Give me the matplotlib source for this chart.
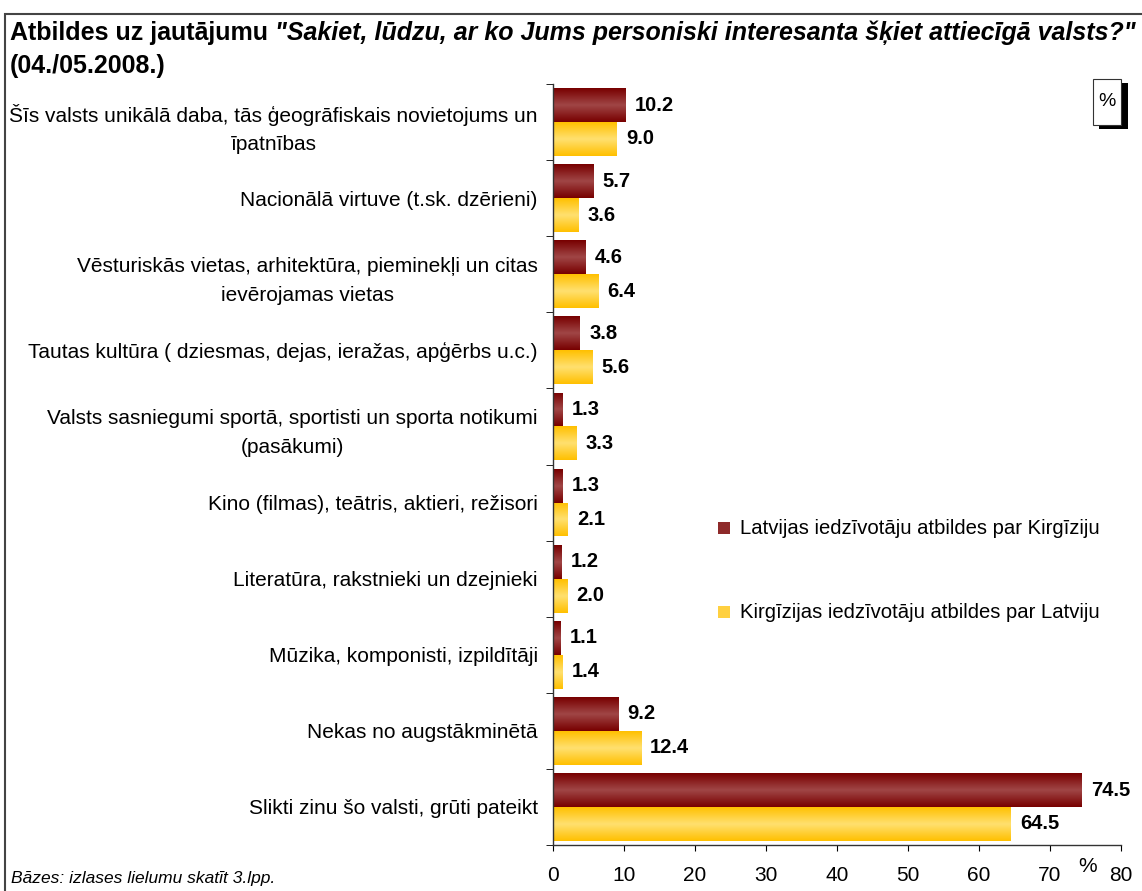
import matplotlib
matplotlib.use("Agg")
import matplotlib.pyplot as plt
import numpy as np
from matplotlib.colors import LinearSegmentedColormap
from matplotlib.patches import Rectangle

plt.rcParams['font.family'] = ['Liberation Sans', 'DejaVu Sans']

categories = [
    "Šīs valsts unikālā daba, tās ģeogrāfiskais novietojums un\nīpatnības",
    "Nacionālā virtuve (t.sk. dzērieni)",
    "Vēsturiskās vietas, arhitektūra, pieminekļi un citas\nievērojamas vietas",
    "Tautas kultūra ( dziesmas, dejas, ieražas, apģērbs u.c.)",
    "Valsts sasniegumi sportā, sportisti un sporta notikumi\n(pasākumi)",
    "Kino (filmas), teātris, aktieri, režisori",
    "Literatūra, rakstnieki un dzejnieki",
    "Mūzika, komponisti, izpildītāji",
    "Nekas no augstākminētā",
    "Slikti zinu šo valsti, grūti pateikt",
]
latvia_on_kyrgyz = [10.2, 5.7, 4.6, 3.8, 1.3, 1.3, 1.2, 1.1, 9.2, 74.5]
kyrgyz_on_latvia = [9.0, 3.6, 6.4, 5.6, 3.3, 2.1, 2.0, 1.4, 12.4, 64.5]
series_names = ["Latvijas iedzīvotāju atbildes par Kirgīziju",
                "Kirgīzijas iedzīvotāju atbildes par Latviju"]
xticks = [0, 10, 20, 30, 40, 50, 60, 70, 80]

W, H = 1142, 891
fig = plt.figure(figsize=(W / 100, H / 100), dpi=100)

# outer frame (right/bottom edges fall outside the picture)
fig.patches.append(Rectangle((5 / W, -0.1), 1.2, 1.1 - 14 / H, transform=fig.transFigure,
                             fill=False, edgecolor='#444444', lw=1.5))

ax_l, ax_r, ax_t, ax_b = 553, 1121, 84, 845
ax = fig.add_axes([ax_l / W, 1 - ax_b / H, (ax_r - ax_l) / W, (ax_b - ax_t) / H])

n = len(categories)
y = np.arange(n)
bh = 0.445

red_cmap = LinearSegmentedColormap.from_list('r', ['#780000', '#a04646', '#780000'])
yel_cmap = LinearSegmentedColormap.from_list('y', ['#ffc000', '#ffe070', '#ffc000'])
grad = np.linspace(0, 1, 64).reshape(-1, 1)

def grad_bars(vals, offset, cmap):
    bars = ax.barh(y + offset, vals, height=bh, color='none', edgecolor='none')
    for b in bars:
        x0, y0 = b.get_x(), b.get_y()
        w, h = b.get_width(), b.get_height()
        im = ax.imshow(grad, cmap=cmap, aspect='auto', extent=(x0, x0 + w, y0 + h, y0),
                       interpolation='bicubic', zorder=2)
        im.set_clip_path(b)
    return bars

grad_bars(latvia_on_kyrgyz, -bh / 2, red_cmap)
grad_bars(kyrgyz_on_latvia, bh / 2, yel_cmap)
ax.set_xlim(0, 80)
ax.set_ylim(n - 0.5, -0.5)

for i in range(n):
    ax.annotate(f"{latvia_on_kyrgyz[i]:.1f}", (latvia_on_kyrgyz[i], y[i] - bh / 2),
                xytext=(6.5, 0), textcoords='offset points', ha='left', va='center',
                fontsize=14.5, fontweight='bold')
    ax.annotate(f"{kyrgyz_on_latvia[i]:.1f}", (kyrgyz_on_latvia[i], y[i] + bh / 2),
                xytext=(6.5, 0), textcoords='offset points', ha='left', va='center',
                fontsize=14.5, fontweight='bold')

for s in ['top', 'right']:
    ax.spines[s].set_visible(False)
for s in ['left', 'bottom']:
    ax.spines[s].set_color('#333333')
    ax.spines[s].set_linewidth(1.0)

ax.set_xticks(xticks)
ax.set_xticklabels([str(t) for t in xticks], fontsize=15)
ax.tick_params(axis='x', direction='out', length=4, pad=11)
ax.set_yticks(y)
ax.set_yticklabels(categories, fontsize=15, multialignment='center', linespacing=1.65)
ax.tick_params(axis='y', length=0, pad=11)
ax.set_yticks(np.arange(-0.5, n, 1.0), minor=True)
ax.tick_params(axis='y', which='minor', direction='out', length=5)

# legend
for name, col, yy in zip(series_names, ['#8e2a2a', '#ffd040'], [528, 612]):
    fig.patches.append(Rectangle((718 / W, 1 - (yy + 6) / H), 12 / W, 12 / H,
                                 transform=fig.transFigure, facecolor=col, edgecolor='none'))
    fig.text(740 / W, 1 - yy / H, name, fontsize=14.6, va='center', ha='left')

# title
renderer = fig.canvas.get_renderer()
t1 = fig.text(10 / W, 1 - 33 / H, "Atbildes uz jautājumu ", fontsize=18, fontweight='bold',
              va='center', ha='left')
bb = t1.get_window_extent(renderer)
fig.text(bb.x1 / W, 1 - 33 / H,
         "\"Sakiet, lūdzu, ar ko Jums personiski interesanta šķiet attiecīgā valsts?\"",
         fontsize=18, fontweight='bold', style='italic', va='center', ha='left')
fig.text(10 / W, 1 - 66 / H, "(04./05.2008.)", fontsize=18, fontweight='bold', va='center', ha='left')

# % box with shadow
fig.patches.append(Rectangle((1099 / W, 1 - 129 / H), 29 / W, 46 / H, transform=fig.transFigure,
                             facecolor='black', edgecolor='none'))
fig.patches.append(Rectangle((1093 / W, 1 - 125 / H), 28 / W, 46 / H, transform=fig.transFigure,
                             facecolor='white', edgecolor='#333333', lw=0.8))
fig.text(1107 / W, 1 - 101 / H, "%", fontsize=14, ha='center', va='center')

fig.text(1088 / W, 1 - 866 / H, "%", fontsize=15, ha='center', va='center')
fig.text(11 / W, 1 - 878 / H, "Bāzes: izlases lielumu skatīt 3.lpp.", fontsize=12.5, style='italic',
         ha='left', va='center')

fig.savefig("out.png", dpi=100)
